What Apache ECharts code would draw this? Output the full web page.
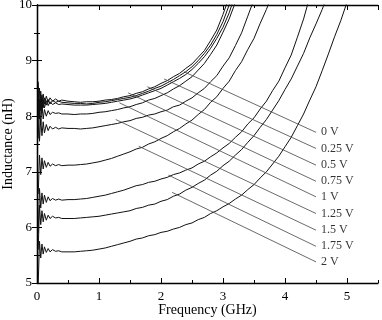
<!DOCTYPE html>
<html><head><meta charset="utf-8">
<script src="https://cdn.jsdelivr.net/npm/echarts@6/dist/echarts.min.js"></script>
<style>html,body{margin:0;padding:0;background:#fff}#c{width:382px;height:320px}</style>
</head><body><div id="c"></div>
<script>
// Frequency grid (GHz)
var freq = [0.02,0.04,0.06,0.08,0.10,0.12,0.15,0.18,0.21,0.25,0.3,0.35,0.4,
  0.5,0.6,0.7,0.8,0.9,1.0,1.1,1.2,1.3,1.4,1.5,1.6,1.7,1.8,1.9,2.0,2.1,2.2,2.3,2.4,2.5,2.6,2.7,2.8,2.9,3.0,
  3.1,3.2,3.3,3.4,3.5,3.6,3.7,3.8,3.9,4.0,4.1,4.2,4.3,4.4,4.5,4.6,4.7,4.8,4.9,5.0,5.1];

// Inductance (nH) per bias voltage
var v0V   = [8.62,8.05,8.45,8.2,8.4,8.22,8.36,8.25,8.33,8.27,8.31,8.27,8.29,
  8.27,8.26,8.25,8.26,8.26,8.27,8.29,8.3,8.32,8.35,8.37,8.41,8.44,8.49,8.53,8.59,8.64,8.71,8.77,8.86,8.94,9.06,9.18,9.36,9.55,9.83,10.15];
var v025V = [7.95,8.5,8.1,8.38,8.15,8.33,8.2,8.3,8.22,8.28,8.25,8.27,8.25,
  8.24,8.23,8.23,8.22,8.23,8.25,8.26,8.28,8.3,8.32,8.34,8.37,8.41,8.45,8.5,8.54,8.6,8.66,8.73,8.8,8.89,9.0,9.13,9.28,9.47,9.7,10.0,10.35];
var v05V  = [8.45,7.95,8.35,8.1,8.3,8.15,8.28,8.19,8.26,8.21,8.24,8.21,8.22,
  8.21,8.2,8.2,8.2,8.21,8.22,8.23,8.25,8.27,8.29,8.31,8.34,8.38,8.42,8.46,8.5,8.56,8.62,8.68,8.75,8.84,8.95,9.07,9.22,9.4,9.6,9.86,10.2];
var v075V = [7.6,8.3,7.85,8.2,7.95,8.12,8.0,8.1,8.03,8.07,8.05,8.06,8.04,
  8.04,8.03,8.04,8.04,8.05,8.07,8.08,8.1,8.12,8.15,8.17,8.21,8.24,8.29,8.32,8.37,8.42,8.49,8.55,8.63,8.71,8.83,8.95,9.11,9.28,9.51,9.75,10.05];
var v1V   = [8.4,7.55,7.95,7.65,7.9,7.7,7.85,7.74,7.82,7.77,7.8,7.77,7.79,
  7.78,7.78,7.77,7.78,7.79,7.81,7.83,7.85,7.87,7.9,7.92,7.96,7.98,8.02,8.04,8.08,8.11,8.17,8.2,8.27,8.33,8.42,8.5,8.62,8.73,8.9,9.05,9.27,9.5,9.8,10.1];
var v125V = [6.6,7.3,6.95,7.25,7.05,7.2,7.08,7.17,7.1,7.14,7.11,7.13,7.11,
  7.12,7.12,7.13,7.14,7.16,7.18,7.21,7.24,7.28,7.32,7.36,7.41,7.44,7.5,7.54,7.6,7.65,7.72,7.78,7.86,7.93,8.03,8.12,8.25,8.35,8.5,8.63,8.82,8.98,9.2,9.4,9.67,9.92,10.2];
var v15V  = [5.9,6.7,6.35,6.62,6.42,6.58,6.45,6.55,6.48,6.52,6.49,6.51,6.49,
  6.5,6.5,6.51,6.52,6.54,6.56,6.58,6.61,6.64,6.67,6.71,6.75,6.77,6.81,6.83,6.87,6.9,6.95,6.98,7.03,7.07,7.14,7.19,7.27,7.34,7.43,7.51,7.62,7.72,7.86,7.97,8.13,8.27,8.46,8.63,8.87,9.1,9.42,9.75,10.15];
var v175V = [5.6,6.4,6.05,6.3,6.1,6.25,6.13,6.22,6.16,6.2,6.17,6.18,6.16,
  6.16,6.16,6.17,6.18,6.19,6.2,6.22,6.24,6.26,6.28,6.3,6.34,6.36,6.4,6.42,6.47,6.5,6.56,6.6,6.67,6.72,6.79,6.85,6.94,7.01,7.11,7.19,7.3,7.4,7.53,7.65,7.8,7.94,8.11,8.28,8.48,8.67,8.9,9.13,9.41,9.66,9.92,10.22];
var v2V   = [5.0,5.75,5.45,5.7,5.52,5.65,5.55,5.62,5.56,5.6,5.57,5.58,5.56,
  5.56,5.56,5.57,5.58,5.59,5.61,5.63,5.66,5.69,5.72,5.75,5.79,5.81,5.85,5.87,5.91,5.93,5.97,6.0,6.05,6.08,6.14,6.18,6.25,6.3,6.37,6.43,6.51,6.58,6.68,6.77,6.89,7.0,7.14,7.28,7.45,7.62,7.83,8.04,8.29,8.53,8.82,9.12,9.43,9.72,10.05,10.4];

var curves = [v0V,v025V,v05V,v075V,v1V,v125V,v15V,v175V,v2V];

// Labels and arrow geometry (data coords)
var labels  = ['0 V','0.25 V','0.5 V','0.75 V','1 V','1.25 V','1.5 V','1.75 V','2 V'];
var tipF    = 4.5;
var tipV    = [7.71,7.42,7.12,6.83,6.55,6.25,5.95,5.66,5.38];
var startF  = [2.37,2.05,1.78,1.47,1.33,1.27,1.64,2.12,2.18];
var startV  = [8.80,8.67,8.53,8.42,8.24,7.94,7.46,6.94,6.63];

var FONT = 'Liberation Serif';
var chart = echarts.init(document.getElementById('c'), null, {renderer:'canvas'});

function xAx(pos, minor, labels){
  return {type:'value', position:pos, min:0, max:5.5, interval: minor?0.5:1,
    axisLine:{show:!minor, lineStyle:{color:'#000', width:1.3}},
    axisTick:{show:true, inside:true, length: minor?3:5, lineStyle:{color:'#000', width:1}},
    axisLabel:{show:labels, color:'#000', fontFamily:FONT, fontSize:13, margin:7, showMaxLabel:false},
    splitLine:{show:false},
    name: labels?'Frequency (GHz)':'', nameLocation:'middle', nameGap:20, nameMoveOverlap:false,
    nameTextStyle:{color:'#000', fontFamily:FONT, fontSize:14}};
}
function yAx(pos, minor, labels){
  return {type:'value', position:pos, min:5, max:10, interval: minor?0.5:1,
    axisLine:{show:!minor, lineStyle:{color:'#000', width:1.3}},
    axisTick:{show:true, inside:true, length: minor?3:5, lineStyle:{color:'#000', width:1}},
    axisLabel:{show:labels, color:'#000', fontFamily:FONT, fontSize:13, margin:5},
    splitLine:{show:false},
    name: labels?'Inductance (nH)':'', nameLocation:'middle', nameGap:22, nameMoveOverlap:false,
    nameTextStyle:{color:'#000', fontFamily:FONT, fontSize:14}};
}

var series = curves.map(function(vals, k){
  return {type:'line', xAxisIndex:0, yAxisIndex:0, showSymbol:false, symbol:'none',
    clip:true, animation:false, silent:true,
    lineStyle:{color:'#111', width:1},
    data: vals.map(function(v,i){return [freq[i], v];})};
});

series[0].markLine = {silent:true, animation:false, symbol:['none','arrow'], symbolSize:[0,7],
  label:{show:false}, lineStyle:{color:'#444', width:0.8, type:'solid'},
  data: labels.map(function(l,i){return [{coord:[startF[i],startV[i]]},{coord:[tipF,tipV[i]]}];})};

series.push({type:'scatter', xAxisIndex:0, yAxisIndex:0, symbolSize:0, silent:true, animation:false,
  label:{show:true, position:'right', distance:5, color:'#000', fontFamily:FONT, fontSize:12,
    formatter:function(p){return labels[p.dataIndex];}},
  data: tipV.map(function(v){return [tipF, v];})});

chart.setOption({
  animation:false,
  grid:{left:37, right:4, top:5, bottom:37, containLabel:false, outerBoundsMode:'none'},
  xAxis:[xAx('bottom',false,true), xAx('bottom',true,false), xAx('top',false,false), xAx('top',true,false)],
  yAxis:[yAx('left',false,true), yAx('left',true,false), yAx('right',false,false), yAx('right',true,false)],
  series: series
});
</script></body></html>
